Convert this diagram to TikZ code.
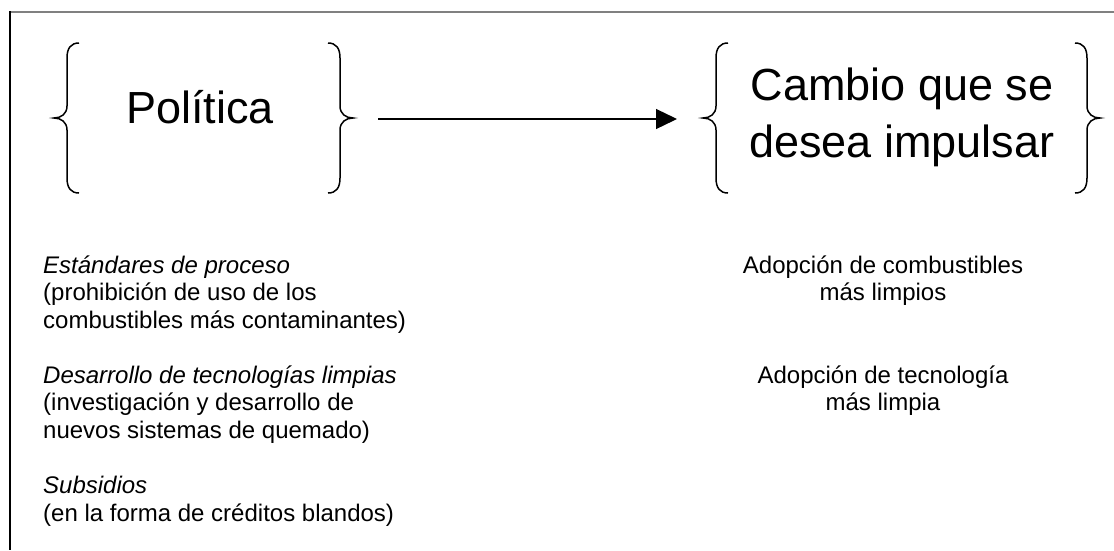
\documentclass[tikz,border=0pt]{standalone}
\usepackage{fontspec}
\setmainfont{Liberation Sans}
\usetikzlibrary{arrows.meta}
\definecolor{framegray}{HTML}{808080}
\tikzset{
  bracestroke/.style={line width=1.5pt,black},
  lbrace/.pic={\draw[bracestroke] (25,-75) .. controls (17,-75) and (13,-70) .. (13,-60) -- (13,-12) .. controls (13,-4) and (7,0) .. (0,0) .. controls (7,0) and (13,4) .. (13,12) -- (13,60) .. controls (13,70) and (17,75) .. (25,75);},
  rbrace/.pic={\draw[bracestroke] (-25,-75) .. controls (-17,-75) and (-13,-70) .. (-13,-60) -- (-13,-12) .. controls (-13,-4) and (-7,0) .. (0,0) .. controls (-7,0) and (-13,4) .. (-13,12) -- (-13,60) .. controls (-13,70) and (-17,75) .. (-25,75);},
  bigtext/.style={font=\fontsize{45}{57}\selectfont,inner sep=0pt,align=center},
  smalltext/.style={font=\fontsize{24}{27.5}\selectfont,inner sep=0pt},
  framelinetop/.style={line width=2pt,framegray},
  framelineleft/.style={line width=1.3pt,black},
  mainarrow/.style={line width=1.3pt,-{Triangle[length=21pt,width=20pt]}}
}
\begin{document}
\begin{tikzpicture}[x=1pt,y=-1pt]
\useasboundingbox (0,0) rectangle (1114,550);
% frame
\coordinate (ftl) at (10,12);
\coordinate (ftr) at (1114,12);
\coordinate (fbl) at (10,550);
\draw[framelinetop] (ftl) -- (ftr);
\draw[framelineleft] ([yshift=1pt]ftl) -- (fbl);
% braces
\pic at (54,118) {lbrace};
\pic at (353,118) {rbrace};
\pic at (703,118) {lbrace};
\pic at (1100,118) {rbrace};
% headings (base anchor = baseline of last line)
\node[bigtext,anchor=base] (pol) at (200,123) {Política};
\node[bigtext,anchor=base] (cam) at (902,157) {Cambio que se\\desea impulsar};
% arrow
\coordinate (arrS) at (378,119);
\coordinate (arrE) at (677,119);
\draw[mainarrow] (arrS) -- (arrE);
% left column
\node[smalltext,align=left,anchor=base west] (p1) at (43,328) {\textit{Estándares de proceso}\\(prohibición de uso de los\\combustibles más contaminantes)};
\node[smalltext,align=left,anchor=base west] (p2) at (43,438) {\textit{Desarrollo de tecnologías limpias}\\(investigación y desarrollo de\\nuevos sistemas de quemado)};
\node[smalltext,align=left,anchor=base west] (p3) at (43,521) {\textit{Subsidios}\\(en la forma de créditos blandos)};
% right column
\node[smalltext,align=center,anchor=base] (r1) at (883,300.5) {Adopción de combustibles\\más limpios};
\node[smalltext,align=center,anchor=base] (r2) at (883,410.5) {Adopción de tecnología\\más limpia};
\end{tikzpicture}
\end{document}
